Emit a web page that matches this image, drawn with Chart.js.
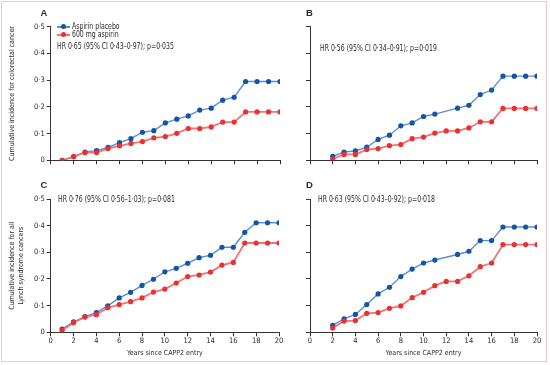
<!DOCTYPE html>
<html>
<head>
<meta charset="utf-8">
<script src="https://cdn.jsdelivr.net/npm/chart.js@4/dist/chart.umd.min.js"></script>
<style>
  html, body { margin:0; padding:0; background:#fff; }
  #wrap { position:relative; width:550px; height:365px; overflow:hidden; background:#fff;
          font-family:'Liberation Sans Narrow','DejaVu Sans Condensed','Open Sans',sans-serif; color:#2a2a2a; }
  #frame { position:absolute; left:1px; top:1px; width:546px; height:361px; border:1.5px solid #f3c3cf; box-sizing:border-box; }
  canvas { position:absolute; left:0; top:0; }
  .txt { position:absolute; white-space:nowrap; font-size:8px; line-height:1; transform-origin:0 50%; transform:translateY(-50%) scaleX(0.86); }
  .lbl { position:absolute; font-weight:bold; font-size:9.5px; line-height:1; transform:translateY(-50%);
         font-family:'Liberation Sans','DejaVu Sans',sans-serif; }
  .leg { position:absolute; height:8px; transform:translateY(-50%); font-size:8px; line-height:8px; white-space:nowrap; }
  .leg .ln { position:absolute; left:0; top:3.5px; width:13px; height:1.5px; }
  .leg .dt { position:absolute; left:4px; top:1.5px; width:5px; height:5px; border-radius:50%; }
  .leg .tx { position:absolute; left:15px; top:0; transform-origin:0 50%; transform:scaleX(0.86); }
</style>
</head>
<body>
<div id="wrap">
  <canvas id="cA" width="550" height="365"></canvas>
  <canvas id="cB" width="550" height="365"></canvas>
  <canvas id="cC" width="550" height="365"></canvas>
  <canvas id="cD" width="550" height="365"></canvas>
  <div class="lbl" style="left:40.5px;top:12.7px;">A</div>
  <div class="lbl" style="left:306px;top:12.7px;">B</div>
  <div class="lbl" style="left:40.5px;top:185px;">C</div>
  <div class="lbl" style="left:306px;top:185px;">D</div>
  <div class="leg" style="left:57px;top:26.7px;"><span class="ln" style="background:#5b8fd0"></span><span class="dt" style="background:#1553a5"></span><span class="tx">Aspirin placebo</span></div>
  <div class="leg" style="left:57px;top:34.7px;"><span class="ln" style="background:#f07575"></span><span class="dt" style="background:#ec2f2f"></span><span class="tx">600 mg aspirin</span></div>
  <div class="txt" style="left:57px;top:46.5px;">HR 0·65 (95% CI 0·43–0·97); p=0·035</div>
  <div class="txt" style="left:320px;top:49.3px;">HR 0·56 (95% CI 0·34–0·91); p=0·019</div>
  <div class="txt" style="left:58px;top:200px;">HR 0·76 (95% CI 0·56–1·03); p=0·081</div>
  <div class="txt" style="left:317.5px;top:200px;">HR 0·63 (95% CI 0·43–0·92); p=0·018</div>
  <div id="frame"></div>
</div>
<script>
// ---- data ----
const years = [1,2,3,4,5,6,7,8,9,10,11,12,13,14,15,16,17,18,19,20];
const xTicks = [0,2,4,6,8,10,12,14,16,18,20];
const yTicks = [0,0.1,0.2,0.3,0.4,0.5];
const yTickLabels = ['0','0·1','0·2','0·3','0·4','0·5'];
const seriesNames = ['Aspirin placebo','600 mg aspirin'];

const aPlacebo = [0,0.014,0.031,0.036,0.048,0.066,0.081,0.105,0.111,0.140,0.154,0.166,0.188,0.195,0.225,0.236,0.295,0.295,0.295,0.295];
const aAspirin = [0,0.014,0.029,0.029,0.044,0.054,0.063,0.070,0.084,0.089,0.101,0.119,0.119,0.125,0.143,0.143,0.181,0.181,0.181,0.181];
const bPlacebo = [null,0.015,0.031,0.035,0.049,0.078,0.094,0.129,0.140,0.164,0.173,null,0.195,0.206,0.246,0.263,0.315,0.315,0.315,0.315];
const bAspirin = [null,0.005,0.022,0.022,0.040,0.044,0.055,0.059,0.081,0.087,0.102,0.110,0.110,0.121,0.144,0.144,0.194,0.194,0.194,0.194];
const cPlacebo = [0.012,0.039,0.059,0.074,0.099,0.129,0.150,0.176,0.199,0.227,0.240,0.259,0.280,0.289,0.319,0.319,0.375,0.411,0.411,0.411];
const cAspirin = [0.007,0.036,0.057,0.066,0.092,0.104,0.115,0.129,0.151,0.162,0.185,0.209,0.215,0.226,0.252,0.262,0.335,0.335,0.335,0.335];
const dPlacebo = [null,0.026,0.050,0.067,0.104,0.144,0.169,0.209,0.237,0.260,0.271,null,0.292,0.304,0.344,0.344,0.395,0.395,0.395,0.395];
const dAspirin = [null,0.016,0.042,0.044,0.071,0.074,0.090,0.099,0.130,0.150,0.175,0.191,0.191,0.212,0.246,0.260,0.329,0.329,0.329,0.329];

const yTitleA = 'Cumulative incidence for colorectal cancer';
const yTitleC = ['Cumulative incidence for all','Lynch syndrome cancers'];
const xTitle = 'Years since CAPP2 entry';

// ---- drawing ----
const FONT = "'Liberation Sans Narrow','DejaVu Sans Condensed','Open Sans',sans-serif";
const AX = '#333333';
const W = 550, H = 365;

function pts(vals) {
  const out = [];
  years.forEach((x, i) => { out.push({x: x, y: vals[i]}); });
  return out;
}

function panel(id, placebo, aspirin, g) {
  const yW = g.yLabels ? 50.7 : 10;
  const xH = g.xLabels ? 26 : 8;
  new Chart(document.getElementById(id), {
    type: 'line',
    data: {
      datasets: [
        { label: seriesNames[1], data: pts(aspirin), order: 0,
          borderColor: '#f07575', borderWidth: 1.8, backgroundColor: '#ec2f2f',
          pointRadius: 2.6, pointBorderWidth: 0, pointBackgroundColor: '#ec2f2f',
          tension: 0, spanGaps: true, fill: false },
        { label: seriesNames[0], data: pts(placebo), order: 1,
          borderColor: '#5b8fd0', borderWidth: 1.4, backgroundColor: '#1553a5',
          pointRadius: 2.6, pointBorderWidth: 0, pointBackgroundColor: '#1553a5',
          tension: 0, spanGaps: true, fill: false }
      ]
    },
    options: {
      responsive: false, animation: false, devicePixelRatio: 1,
      layout: { padding: { left: g.left - yW, right: W - g.right, top: g.top, bottom: H - g.bottom - xH } },
      plugins: { legend: { display: false }, tooltip: { enabled: false }, title: { display: false } },
      scales: {
        x: {
          type: 'linear', min: 0, max: 20, offset: false,
          afterBuildTicks: s => { s.ticks = xTicks.map(v => ({value: v})); },
          afterFit: s => { s.height = xH; },
          border: { display: true, color: AX, width: 1 },
          grid: { drawOnChartArea: false, drawTicks: true, tickLength: 4, color: AX, lineWidth: 1 },
          ticks: { display: g.xLabels, padding: 0, color: '#2a2a2a', font: { family: FONT, size: 7.5 }, maxRotation: 0,
                   callback: v => String(v) },
          title: { display: g.xLabels, text: xTitle, color: '#2a2a2a', font: { family: FONT, size: 7 },
                   padding: { top: 0, bottom: 1 } }
        },
        y: {
          type: 'linear', min: 0, max: 0.5,
          afterBuildTicks: s => { s.ticks = yTicks.map(v => ({value: v})); },
          afterFit: s => { s.width = yW; },
          border: { display: true, color: AX, width: 1 },
          grid: { drawOnChartArea: false, drawTicks: true, tickLength: 4, color: AX, lineWidth: 1 },
          ticks: { display: g.yLabels, padding: 2, color: '#2a2a2a', font: { family: FONT, size: 7.5 },
                   callback: (v) => { const i = yTicks.findIndex(t => Math.abs(t - v) < 1e-9); return i >= 0 ? yTickLabels[i] : ''; } },
          title: { display: !!g.yTitle, text: g.yTitle || '', color: '#2a2a2a', font: { family: FONT, size: 7, lineHeight: 1.25 },
                   padding: { top: g.yTitlePad || 7.5, bottom: 0 } }
        }
      }
    }
  });
}

panel('cA', aPlacebo, aAspirin, { left: 50.7, right: 280, top: 26.7, bottom: 160.3, yLabels: true, xLabels: false, yTitle: yTitleA, yTitlePad: 7.6 });
panel('cB', bPlacebo, bAspirin, { left: 310, right: 537, top: 26.7, bottom: 160.3, yLabels: false, xLabels: false });
panel('cC', cPlacebo, cAspirin, { left: 50.7, right: 279, top: 199, bottom: 332.3, yLabels: true, xLabels: true, yTitle: yTitleC, yTitlePad: 7.6 });
panel('cD', dPlacebo, dAspirin, { left: 310, right: 537, top: 199, bottom: 332.3, yLabels: false, xLabels: true });
</script>
</body>
</html>
